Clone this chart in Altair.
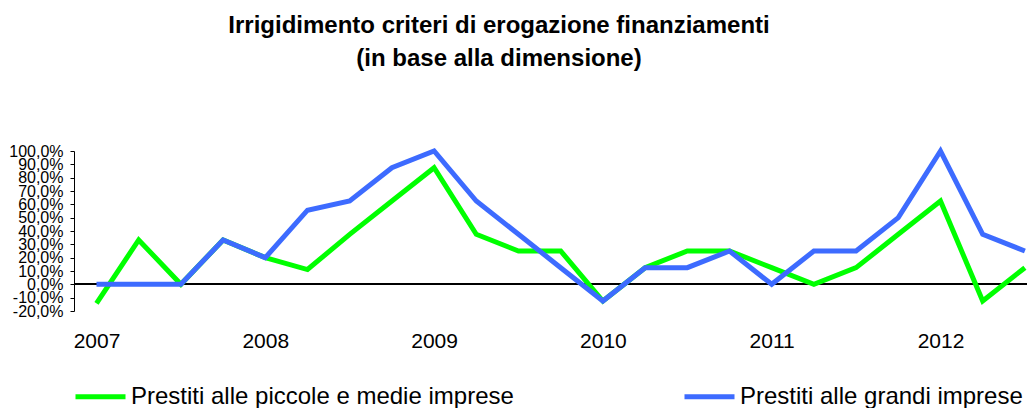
import altair as alt
import pandas as pd

quarters = list(range(23))
green_name = "Prestiti alle piccole e medie imprese"
blue_name = "Prestiti alle grandi imprese"
green_vals = [-14.3, 33.3, 0, 33.3, 20, 11.1, 37.5, 62.5, 87.5, 37.5, 25, 25,
              -12.5, 12.5, 25, 25, 12.5, 0, 12.5, 37.5, 62.5, -12.5, 12.5]
blue_vals = [0, 0, 0, 33.3, 20, 55.6, 62.5, 87.5, 100, 62.5, 37.5, 12.5,
             -12.5, 12.5, 12.5, 25, 0, 25, 25, 50, 100, 37.5, 25]
year_ticks = [0, 4, 8, 12, 16, 20]
y_ticks = [-20, -10, 0, 10, 20, 30, 40, 50, 60, 70, 80, 90, 100]

df = pd.DataFrame({
    "t": quarters + quarters,
    "v": green_vals + blue_vals,
    "s": [green_name] * 23 + [blue_name] * 23,
    "o": [0] * 23 + [1] * 23,
})

FONT = "Liberation Sans"

x = alt.X("t:Q", scale=alt.Scale(domain=[-0.533, 22.05], nice=False, zero=False),
          axis=alt.Axis(values=year_ticks, labelExpr="toString(2007 + datum.value / 4)",
                        domain=False, ticks=False, grid=False, title=None,
                        labelFontSize=21, labelFont=FONT, labelColor="black",
                        labelPadding=19))
y_axis = alt.Axis(values=y_ticks, title=None, grid=False,
                  labelExpr="replace(replace(format(datum.value / 100, '.1%'), '.', ','), '\u2212', '-')",
                  labelFontSize=16, labelFont=FONT, labelColor="black",
                  labelOverlap=False, labelFlush=False, labelPadding=7,
                  tickSize=4, tickColor="black", domainColor="black")
y_scale = alt.Scale(domain=[-20, 100], nice=False)
y = alt.Y("v:Q", scale=y_scale, axis=y_axis)

lines = alt.Chart(df).mark_line(strokeWidth=5, strokeJoin="miter").encode(
    x=x, y=y,
    color=alt.Color("s:N", scale=alt.Scale(domain=[green_name, blue_name],
                                           range=["#00ff00", "#3d6bff"]),
                    legend=alt.Legend(orient="none", legendX=-1, legendY=218,
                                      direction="horizontal", title=None,
                                      symbolType="stroke", symbolSize=2500,
                                      symbolStrokeWidth=5, labelFontSize=24,
                                      labelFont=FONT, labelColor="black",
                                      columnPadding=160, labelOffset=3,
                                      labelLimit=700)),
    order="o:Q",
    detail="s:N",
)

zero = alt.Chart(df).mark_rule(color="black", strokeWidth=1).encode(
    y=alt.Y(datum=0, scale=y_scale, axis=y_axis))

chart = alt.layer(zero, lines).properties(
    width=953, height=160,
    autosize=alt.AutoSizeParams(type="none"),
    padding={"left": 66, "top": 143, "right": 0, "bottom": 97},
    title=alt.TitleParams(text=["Irrigidimento criteri di erogazione finanziamenti",
                                "(in base alla dimensione)"],
                          font=FONT, fontSize=24, fontWeight="bold", color="black",
                          anchor="middle", dx=-51.5, offset=70, lineHeight=33),
).configure_view(stroke=None).configure_axisY(labelOverlap=False)

chart.save("out.html", embed_options={"renderer": "svg", "actions": False})
